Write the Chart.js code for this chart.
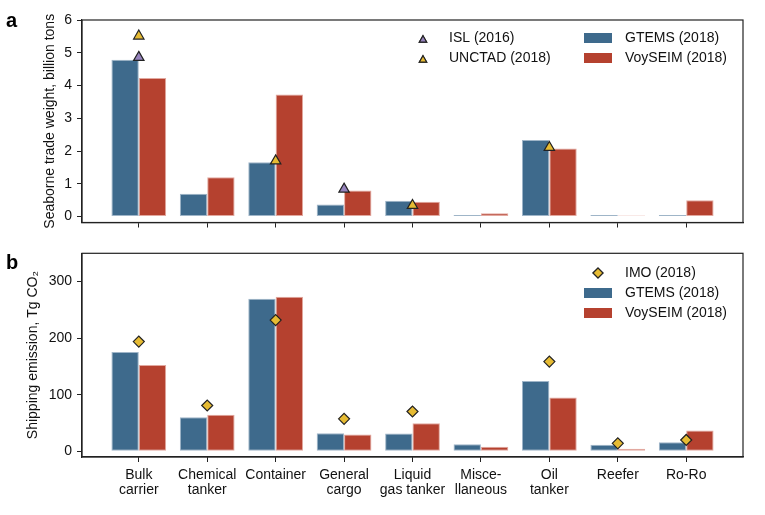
<!DOCTYPE html>
<html><head><meta charset="utf-8">
<script src="https://cdn.jsdelivr.net/npm/chart.js@4.4.0/dist/chart.umd.min.js"></script>
<style>
body{margin:0;background:#fff;width:765px;height:515px;overflow:hidden;position:relative;font-family:"Liberation Sans",Arial,sans-serif}
#wa{position:absolute;left:0;top:0;width:765px;height:245px}
#wb{position:absolute;left:0;top:245px;width:765px;height:270px}
.lbl{position:absolute;font-weight:bold;font-size:20px;line-height:20px;color:#000}
</style></head>
<body>
<div id="wa"><canvas id="ca"></canvas></div>
<div id="wb"><canvas id="cb"></canvas></div>
<div class="lbl" style="left:6px;top:10px">a</div>
<div class="lbl" style="left:6px;top:252px">b</div>
<script>
const categories = [["Bulk","carrier"],["Chemical","tanker"],["Container"],["General","cargo"],["Liquid","gas tanker"],["Misce-","llaneous"],["Oil","tanker"],["Reefer"],["Ro-Ro"]];
const tradeTicks = [0,1,2,3,4,5,6];
const emisTicks = [0,100,200,300];
const tradeGTEMS   = [4.79,0.70,1.66,0.37,0.48,0.05,2.34,0.05,0.05];
const tradeVoySEIM = [4.23,1.20,3.73,0.80,0.45,0.10,2.08,0.03,0.50];
const tradeISL     = [4.86,null,null,0.84,null,null,null,null,null];
const tradeUNCTAD  = [5.51,null,1.70,null,0.34,null,2.11,null,null];
const emisGTEMS    = [175.7,60.4,269.8,32.0,31.4,12.4,124.3,11.8,16.0];
const emisVoySEIM  = [152.7,64.5,273.4,29.6,49.7,8.3,95.3,4.7,36.7];
const emisIMO      = [194,81,232,57.4,70.4,null,158.6,14.2,20.1];

const BLUE='#3e6a8c', RED='#b5412f', BLUE_EDGE='#9fb5c8', RED_EDGE='#e2a89f', PURPLE='#9683bd', YELLOW='#e6bb33', INK='#222';
const FONT={family:'"Liberation Sans", Arial, sans-serif', size:14};
Chart.defaults.font = FONT;
Chart.defaults.color = '#111';

function pts(arr){ return arr.map((v,i)=>({x:i,y:v})).filter(p=>p.y!==null); }
function barDs(label, arr, color, edge){
  return {type:'bar', label, data:pts(arr), backgroundColor:color, borderColor:edge,
    borderWidth:1, borderSkipped:false, categoryPercentage:0.8, barPercentage:1.0, order:1};
}
function ptDs(label, arr, color, style, r){
  return {type:'line', label, data:pts(arr), showLine:false, pointStyle:style, pointRadius:r,
    pointBackgroundColor:color, pointBorderColor:INK, pointBorderWidth:1.2, backgroundColor:color, order:0};
}

const boxPlugin = {id:'box', afterDatasetsDraw(chart){
  const a=chart.chartArea, c=chart.ctx; c.save(); c.strokeStyle=INK; c.lineWidth=1.2;
  c.strokeRect(a.left,a.top,a.right-a.left,a.bottom-a.top); c.restore();
}};

function drawMarker(c, style, x, y, r, color){
  c.save(); c.fillStyle=color; c.strokeStyle=INK; c.lineWidth=1.1;
  Chart.helpers.drawPoint(c, {pointStyle:style, radius:r, borderWidth:1.1}, x, y);
  c.fill(); c.stroke(); c.restore();
}
function legendPlugin(items){
  return {id:'lg', afterDraw(chart){
    const c=chart.ctx; c.save();
    c.font='14px "Liberation Sans", Arial, sans-serif'; c.fillStyle='#111'; c.textBaseline='middle'; c.textAlign='left';
    items.forEach(it=>{
      const ds=chart.data.datasets[it.ds];
      if(it.kind==='bar'){ c.fillStyle=ds.backgroundColor; c.fillRect(it.mx-14,it.y-5,28,10); }
      else { drawMarker(c, ds.pointStyle, it.mx, it.my, it.r, ds.pointBackgroundColor); }
      c.fillStyle='#111'; c.fillText(ds.label, it.tx, it.y);
    });
    c.restore();
  }};
}

function xScale(showLabels, h){
  return {type:'linear', min:-0.83, max:8.83, offset:false,
    afterBuildTicks(ax){ ax.ticks = categories.map((c,i)=>({value:i})); },
    afterFit(ax){ ax.height=h; ax.paddingLeft=0; ax.paddingRight=0; },
    ticks:{display:showLabels, autoSkip:false, maxRotation:0, padding:5, color:'#111',
      callback:(v)=>categories[v], font:{size:14, lineHeight:1.1}},
    grid:{display:true, offset:false, drawOnChartArea:false, drawTicks:true, tickLength:5, color:INK, lineWidth:1},
    border:{display:true, color:INK, width:1.2}};
}
function yScale(title, min, max, tickList, w){
  return {type:'linear', min, max,
    afterBuildTicks(ax){ ax.ticks = tickList.map(v=>({value:v})); },
    afterFit(ax){ ax.width=w; ax.paddingTop=0; ax.paddingBottom=0; },
    title:{display:true, text:title, color:'#111', font:{size:14}},
    ticks:{padding:5, color:'#111', font:{size:14}},
    grid:{display:true, offset:false, drawOnChartArea:false, drawTicks:true, tickLength:5, color:INK, lineWidth:1},
    border:{display:true, color:INK, width:1.2}};
}

new Chart(document.getElementById('ca'), {
  data:{datasets:[
    barDs('GTEMS (2018)', tradeGTEMS, BLUE, BLUE_EDGE),
    barDs('VoySEIM (2018)', tradeVoySEIM, RED, RED_EDGE),
    ptDs('ISL (2016)', tradeISL, PURPLE, 'triangle', 6),
    ptDs('UNCTAD (2018)', tradeUNCTAD, YELLOW, 'triangle', 6)
  ]},
  options:{responsive:true, maintainAspectRatio:false, animation:false, events:[],
    layout:{padding:{left:38, right:22, top:20, bottom:0}},
    plugins:{legend:{display:false}, tooltip:{enabled:false}},
    scales:{x:xScale(false, 22.5), y:yScale('Seaborne trade weight, billion tons', -0.18, 6, tradeTicks, 44)}},
  plugins:[boxPlugin, legendPlugin([
    {ds:2, kind:'pt', mx:423, my:40, r:4.3, tx:449, y:38.5},
    {ds:3, kind:'pt', mx:423, my:60, r:4.3, tx:449, y:58.5},
    {ds:0, kind:'bar', mx:598, tx:625, y:38},
    {ds:1, kind:'bar', mx:598, tx:625, y:58}
  ])]
});

new Chart(document.getElementById('cb'), {
  data:{datasets:[
    barDs('GTEMS (2018)', emisGTEMS, BLUE, BLUE_EDGE),
    barDs('VoySEIM (2018)', emisVoySEIM, RED, RED_EDGE),
    ptDs('IMO (2018)', emisIMO, YELLOW, 'rectRot', 5.5)
  ]},
  options:{responsive:true, maintainAspectRatio:false, animation:false, events:[],
    layout:{padding:{left:21, right:22, top:8.3, bottom:0}},
    plugins:{legend:{display:false}, tooltip:{enabled:false}},
    scales:{x:xScale(true, 58), y:yScale('Shipping emission, Tg CO\u2082', -10, 350, emisTicks, 61)}},
  plugins:[boxPlugin, legendPlugin([
    {ds:2, kind:'pt', mx:598, my:28, r:5, tx:625, y:28},
    {ds:0, kind:'bar', mx:598, tx:625, y:48},
    {ds:1, kind:'bar', mx:598, tx:625, y:68}
  ])]
});
</script>
</body></html>
